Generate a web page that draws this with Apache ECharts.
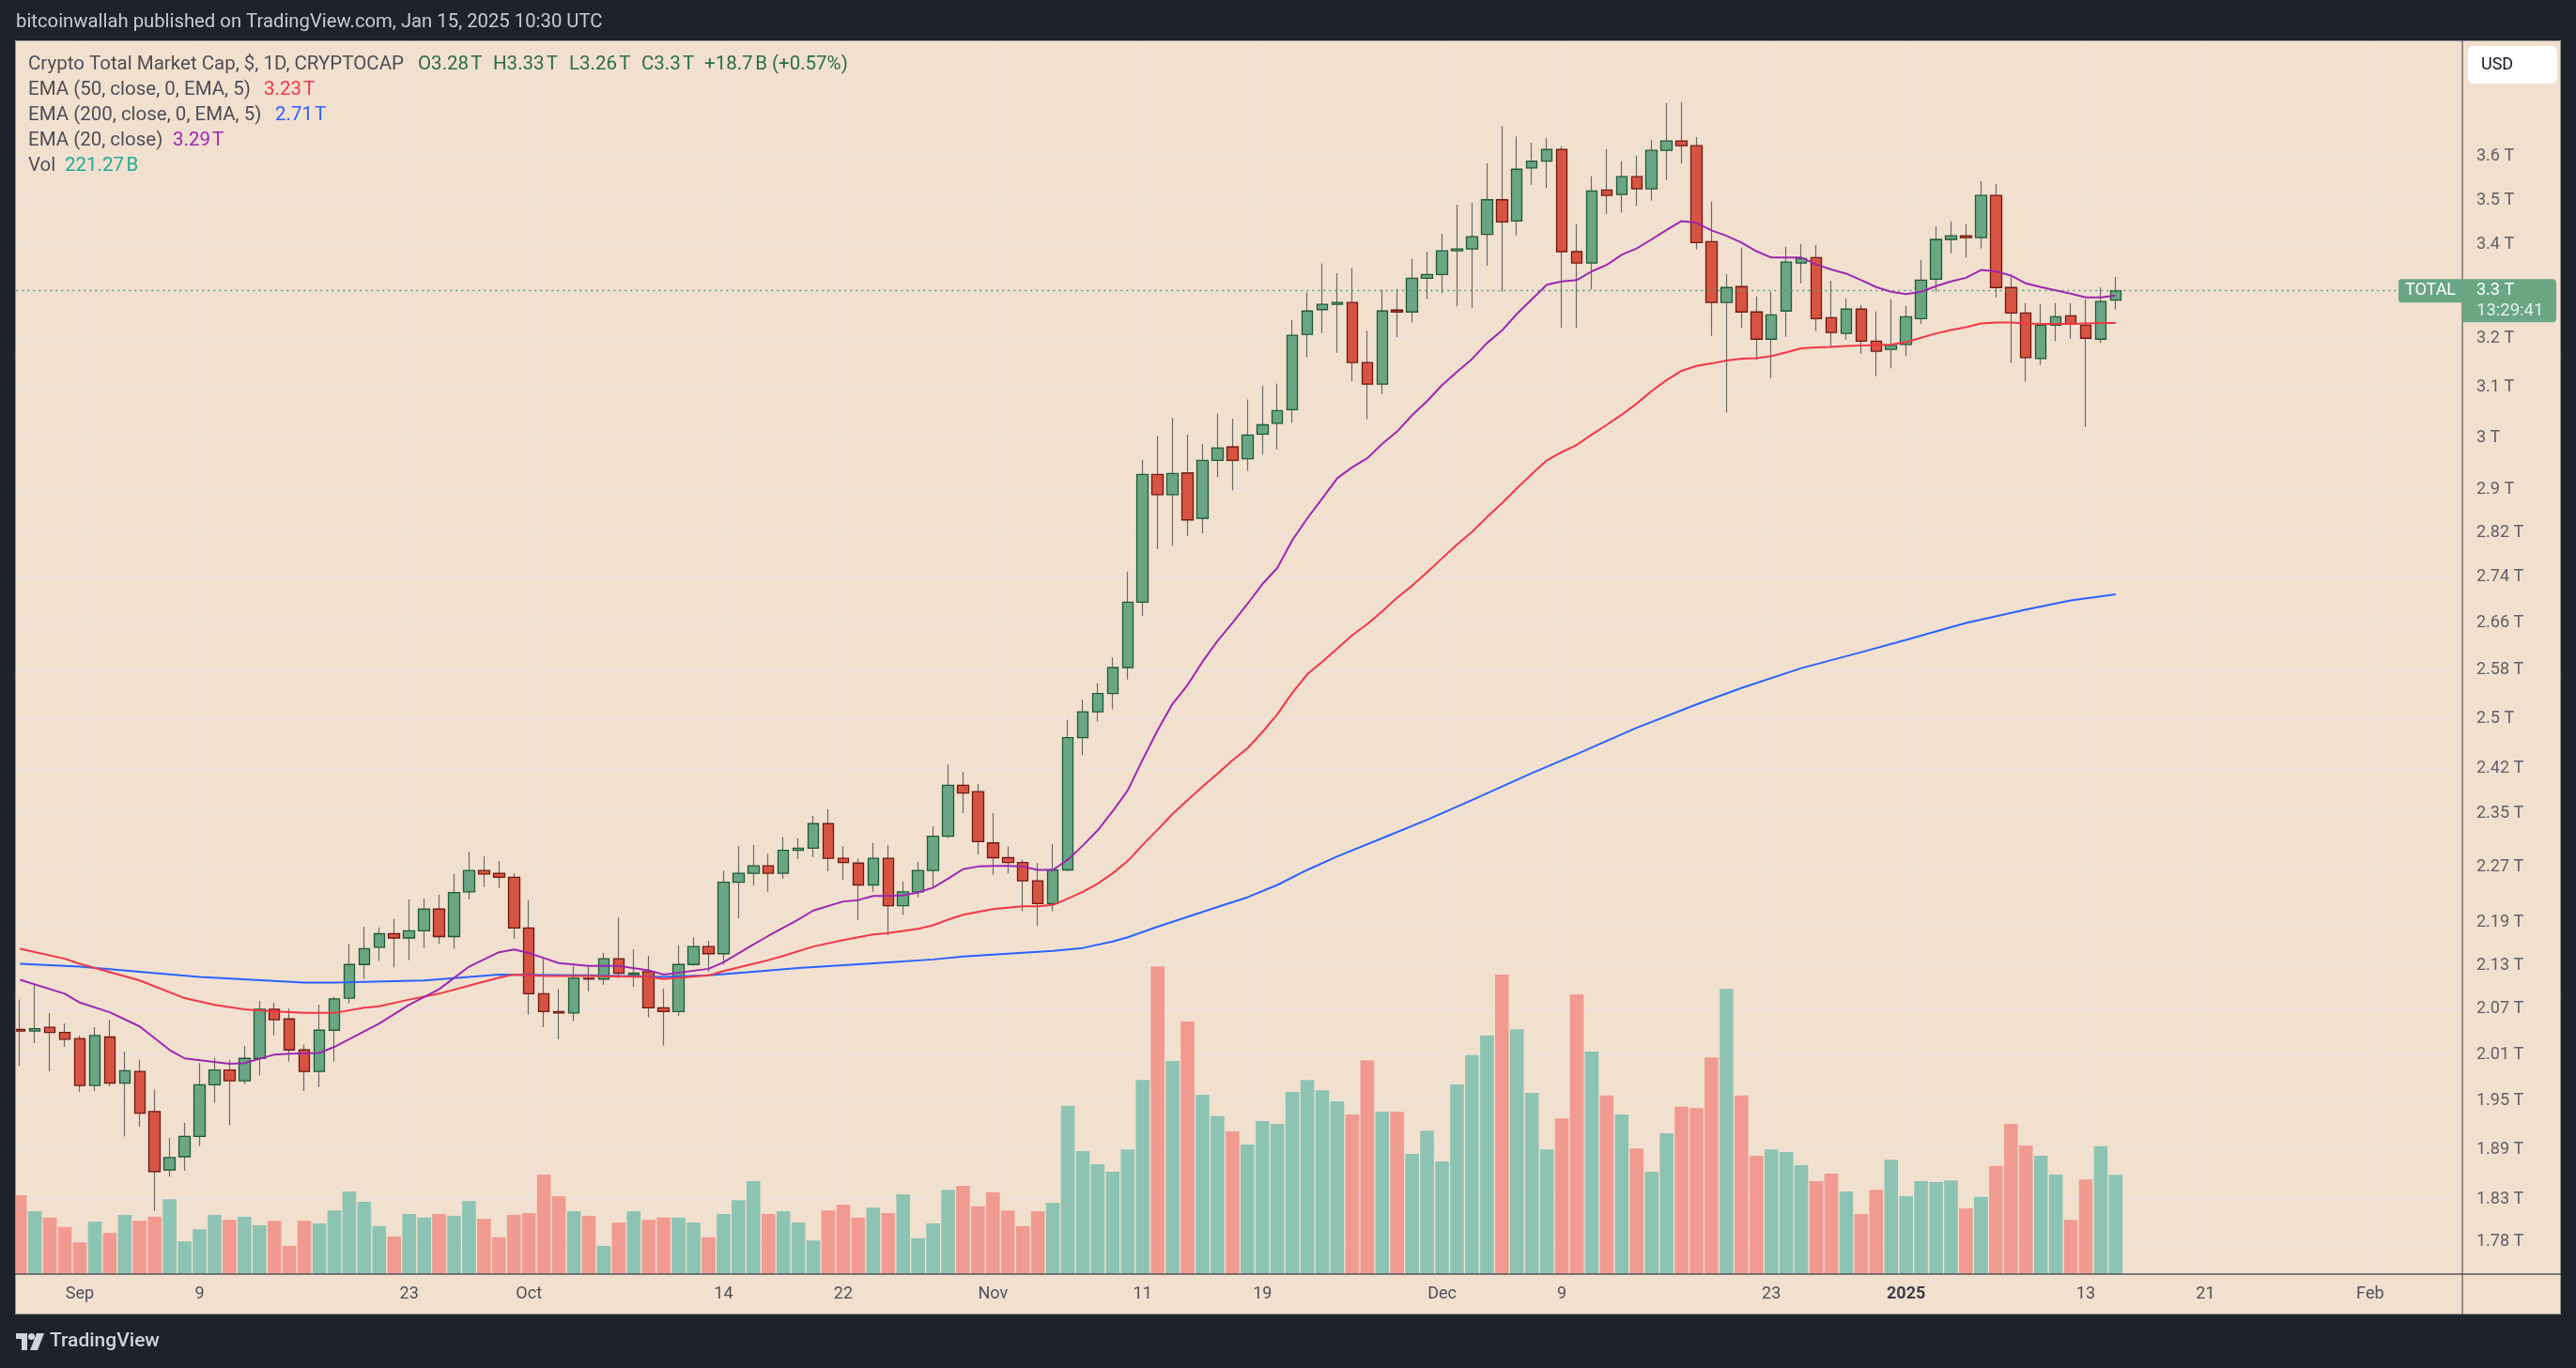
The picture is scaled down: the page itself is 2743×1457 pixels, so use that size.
<!DOCTYPE html>
<html>
<head>
<meta charset="utf-8">
<script src="https://cdn.jsdelivr.net/npm/echarts@6/dist/echarts.min.js"></script>
<style>
html,body{margin:0;padding:0;background:#1f222c;}
#chart{width:2743px;height:1457px;}
</style>
</head>
<body>
<div id="chart"></div>
<script>
// ---------------- DATA ----------------
// Time axis: daily categories (includes empty future space to the right)
const startCategory = '2024-08-27';
const categoryCount = 165;
const candleStart = '2024-08-28';

// Daily candles, trillions USD: [open, close, low, high]
const ohlc = [
  [2.043,2.041,1.995,2.083],[2.041,2.044,2.025,2.104],[2.046,2.039,1.988,2.065],[2.039,2.030,2.020,2.051],
  [2.031,1.970,1.962,2.035],[1.970,2.035,1.963,2.046],[2.033,1.973,1.969,2.056],[1.973,1.989,1.906,2.014],
  [1.988,1.935,1.918,2.003],[1.937,1.863,1.816,1.965],[1.865,1.880,1.857,1.904],[1.881,1.906,1.864,1.923],
  [1.906,1.971,1.894,1.999],[1.971,1.990,1.948,2.006],[1.990,1.976,1.920,2.003],[1.976,2.005,1.972,2.021],
  [2.005,2.070,1.983,2.081],[2.070,2.056,2.035,2.079],[2.057,2.016,2.001,2.071],[2.016,1.988,1.963,2.023],
  [1.988,2.042,1.968,2.076],[2.042,2.084,2.001,2.087],[2.085,2.131,2.078,2.160],[2.131,2.153,2.111,2.184],
  [2.155,2.174,2.136,2.183],[2.174,2.168,2.127,2.195],[2.168,2.178,2.137,2.223],[2.178,2.209,2.154,2.224],
  [2.209,2.170,2.160,2.230],[2.170,2.233,2.153,2.260],[2.234,2.265,2.223,2.293],[2.265,2.260,2.241,2.286],
  [2.261,2.255,2.239,2.279],[2.255,2.182,2.167,2.261],[2.182,2.091,2.063,2.222],[2.091,2.067,2.046,2.141],
  [2.067,2.065,2.030,2.097],[2.065,2.112,2.054,2.129],[2.112,2.111,2.094,2.128],[2.111,2.139,2.103,2.147],
  [2.139,2.119,2.112,2.197],[2.117,2.119,2.100,2.152],[2.121,2.072,2.059,2.143],[2.072,2.067,2.022,2.098],
  [2.067,2.131,2.061,2.158],[2.131,2.156,2.129,2.169],[2.156,2.146,2.121,2.164],[2.146,2.248,2.131,2.265],
  [2.248,2.261,2.196,2.301],[2.261,2.272,2.243,2.303],[2.272,2.261,2.234,2.290],[2.261,2.295,2.253,2.315],
  [2.295,2.298,2.282,2.313],[2.298,2.335,2.285,2.347],[2.335,2.283,2.264,2.357],[2.283,2.277,2.251,2.301],
  [2.276,2.244,2.193,2.283],[2.244,2.283,2.234,2.306],[2.283,2.214,2.172,2.303],[2.214,2.234,2.201,2.249],
  [2.234,2.265,2.226,2.278],[2.265,2.316,2.241,2.331],[2.316,2.394,2.313,2.426],[2.394,2.382,2.351,2.415],
  [2.384,2.308,2.289,2.396],[2.306,2.284,2.259,2.351],[2.284,2.277,2.261,2.301],[2.277,2.250,2.206,2.281],
  [2.250,2.217,2.185,2.276],[2.217,2.266,2.206,2.304],[2.266,2.469,2.264,2.498],[2.469,2.511,2.441,2.531],
  [2.511,2.541,2.495,2.558],[2.541,2.584,2.515,2.601],[2.584,2.696,2.564,2.750],[2.696,2.929,2.672,2.957],
  [2.929,2.891,2.791,3.004],[2.891,2.931,2.797,3.039],[2.932,2.844,2.814,3.006],[2.847,2.956,2.819,2.988],
  [2.956,2.980,2.924,3.047],[2.982,2.956,2.899,3.037],[2.959,3.005,2.936,3.075],[3.007,3.025,2.967,3.103],
  [3.028,3.053,2.977,3.107],[3.055,3.206,3.029,3.238],[3.208,3.257,3.161,3.297],[3.260,3.271,3.211,3.359],
  [3.271,3.275,3.170,3.338],[3.275,3.150,3.112,3.349],[3.150,3.106,3.036,3.216],[3.106,3.257,3.086,3.302],
  [3.259,3.255,3.202,3.304],[3.255,3.327,3.233,3.369],[3.327,3.335,3.282,3.385],[3.335,3.387,3.295,3.424],
  [3.387,3.391,3.267,3.490],[3.391,3.418,3.264,3.494],[3.423,3.501,3.354,3.585],[3.501,3.451,3.298,3.672],
  [3.453,3.571,3.421,3.648],[3.574,3.590,3.535,3.633],[3.590,3.617,3.527,3.644],[3.617,3.385,3.222,3.625],
  [3.385,3.360,3.222,3.446],[3.360,3.521,3.303,3.555],[3.523,3.511,3.468,3.618],[3.513,3.554,3.472,3.590],
  [3.554,3.526,3.487,3.603],[3.526,3.615,3.499,3.640],[3.615,3.637,3.546,3.728],[3.637,3.626,3.584,3.730],
  [3.626,3.405,3.390,3.647],[3.407,3.275,3.205,3.497],[3.275,3.307,3.049,3.336],[3.309,3.255,3.221,3.394],
  [3.255,3.198,3.155,3.288],[3.198,3.249,3.118,3.298],[3.257,3.362,3.203,3.396],[3.360,3.370,3.316,3.402],
  [3.372,3.241,3.215,3.400],[3.243,3.212,3.182,3.322],[3.210,3.261,3.197,3.284],[3.261,3.194,3.168,3.270],
  [3.194,3.173,3.122,3.256],[3.177,3.185,3.138,3.282],[3.187,3.245,3.163,3.268],[3.241,3.323,3.230,3.367],
  [3.325,3.412,3.298,3.441],[3.412,3.420,3.381,3.452],[3.420,3.416,3.372,3.446],[3.416,3.511,3.392,3.544],
  [3.511,3.307,3.286,3.537],[3.307,3.253,3.149,3.330],[3.253,3.160,3.111,3.274],[3.158,3.227,3.145,3.272],
  [3.227,3.245,3.194,3.274],[3.247,3.229,3.199,3.274],[3.227,3.200,3.021,3.282],[3.198,3.277,3.190,3.307],
  [3.28,3.30,3.26,3.33]
];

// Daily volume, billions USD
const volumeB = [
  176,140,126,105,71,117,92,132,119,128,
  167,73,100,132,121,128,109,119,63,119,
  113,142,184,161,107,84,134,126,134,130,
  163,123,82,132,136,222,174,140,130,63,
  115,140,121,126,126,115,82,134,165,207,
  134,140,115,75,142,155,126,148,136,178,
  80,113,188,197,151,182,142,107,140,159,
  375,274,245,228,278,433,686,475,563,400,
  352,318,289,341,335,406,433,410,385,356,
  477,362,362,268,320,251,423,488,532,668,
  546,404,278,347,624,496,398,356,280,228,
  314,373,370,483,636,398,264,278,272,243,
  207,224,184,134,188,255,174,207,205,209,
  146,172,241,335,287,264,222,121,211,285,
  221.27
];

// EMA (20, close) (null = not read)
const ema20 = [
  2.110,null,null,2.091,2.079,null,2.066,null,2.047,null,
  2.016,2.005,null,null,1.998,1.999,null,2.010,2.011,null,
  2.012,2.020,null,null,2.051,null,2.076,null,2.097,null,
  2.128,null,2.148,2.152,2.147,2.140,2.133,null,2.129,null,
  2.129,null,2.123,2.117,null,null,2.125,2.134,null,2.159,
  2.171,null,2.194,2.207,null,2.220,2.222,2.228,2.228,2.229,
  2.233,2.240,2.253,2.267,2.271,2.272,2.272,2.271,2.266,2.266,
  2.281,2.302,2.325,2.354,2.386,2.434,2.481,2.524,2.555,2.594,
  2.629,2.660,2.693,2.728,2.757,2.807,2.847,2.884,2.922,2.943,
  2.960,2.988,3.012,3.044,3.072,3.104,3.131,3.157,3.190,3.216,
  3.251,3.282,3.313,3.320,3.323,3.342,3.356,3.378,3.392,3.412,
  3.433,3.453,3.449,3.432,3.420,3.405,3.386,3.372,3.372,3.372,
  3.357,3.346,3.337,3.323,3.308,3.298,3.293,3.298,3.310,3.320,
  3.328,3.345,3.342,3.333,3.316,3.308,3.301,3.294,3.286,3.286,
  3.290
];

// EMA (50, close, 0, EMA, 5)
const ema50 = [
  2.153,null,null,2.139,2.132,null,null,null,2.109,null,
  null,2.085,null,2.076,null,2.070,null,2.067,null,2.065,
  null,2.065,null,2.072,2.074,null,2.083,null,2.091,null,
  2.102,null,2.113,2.117,null,2.115,null,null,2.115,null,
  null,null,2.114,2.111,null,null,2.116,2.122,null,2.132,
  2.137,2.143,null,2.156,null,2.165,null,2.173,2.175,null,
  2.181,2.186,2.194,2.201,2.205,2.209,2.211,2.213,2.213,2.215,
  2.224,2.234,2.246,2.261,2.279,2.303,2.326,2.350,2.371,2.392,
  2.412,2.433,2.452,2.478,2.507,2.542,2.573,2.594,2.616,2.639,
  2.658,2.680,2.704,2.725,2.749,2.774,2.799,2.822,2.849,2.875,
  2.903,2.930,2.956,2.972,2.986,3.006,3.025,3.045,3.067,3.092,
  3.114,3.133,3.143,3.148,3.154,3.158,3.159,3.163,3.171,3.179,
  3.181,3.182,3.184,3.185,3.186,3.187,3.192,3.201,3.210,3.217,
  3.223,3.231,3.233,3.233,3.231,3.230,3.230,3.230,3.231,3.232,
  3.232
];

// EMA (200, close, 0, EMA, 5): [date, value]
const ema200Points = [
  ['2024-08-28',2.132],['2024-09-01',2.128],['2024-09-09',2.114],['2024-09-16',2.106],
  ['2024-09-18',2.106],['2024-09-24',2.109],['2024-09-29',2.117],['2024-10-05',2.116],
  ['2024-10-10',2.114],['2024-10-13',2.116],['2024-10-16',2.121],['2024-10-19',2.126],
  ['2024-10-22',2.130],['2024-10-25',2.134],['2024-10-28',2.138],['2024-10-30',2.142],
  ['2024-11-02',2.146],['2024-11-05',2.150],['2024-11-07',2.154],['2024-11-09',2.163],
  ['2024-11-10',2.169],['2024-11-12',2.184],['2024-11-14',2.198],['2024-11-16',2.212],
  ['2024-11-18',2.226],['2024-11-20',2.244],['2024-11-22',2.266],['2024-11-24',2.286],
  ['2024-11-27',2.313],['2024-11-30',2.341],['2024-12-03',2.371],['2024-12-07',2.413],
  ['2024-12-10',2.443],['2024-12-14',2.485],['2024-12-18',2.523],['2024-12-21',2.550],
  ['2024-12-25',2.583],['2024-12-29',2.610],['2025-01-01',2.631],['2025-01-05',2.660],
  ['2025-01-09',2.683],['2025-01-12',2.699],['2025-01-15',2.710]
];

// Price axis tick labels (trillions)
const priceTicks = [1.78,1.83,1.89,1.95,2.01,2.07,2.13,2.19,2.27,2.35,2.42,2.5,2.58,2.66,2.74,2.82,2.9,3,3.1,3.2,3.3,3.4,3.5,3.6];

// Time axis labels
const timeLabels = {
  '2024-09-01':'Sep','2024-09-09':'9','2024-09-23':'23','2024-10-01':'Oct','2024-10-14':'14',
  '2024-10-22':'22','2024-11-01':'Nov','2024-11-11':'11','2024-11-19':'19','2024-12-01':'Dec',
  '2024-12-09':'9','2024-12-23':'23','2025-01-01':'2025','2025-01-13':'13','2025-01-21':'21','2025-02-01':'Feb'
};

const headerText = 'bitcoinwallah published on TradingView.com, Jan 15, 2025 10:30 UTC';
const symbolTitle = 'Crypto Total Market Cap, $, 1D, CRYPTOCAP';
const changeText = '+18.7\u202fB (+0.57%)';
const countdownText = '13:29:41';

// ---------------- BUILD ----------------
const categories = [];
{
  const t0 = Date.parse(startCategory + 'T00:00:00Z');
  for (let i = 0; i < categoryCount; i++) {
    categories.push(new Date(t0 + i * 86400000).toISOString().slice(0, 10));
  }
}
const off = categories.indexOf(candleStart);
function pad(arr) {
  return categories.map((c, i) => {
    const k = i - off;
    return (k >= 0 && k < arr.length && arr[k] != null) ? arr[k] : '-';
  });
}

const UP = '#6aa684', DOWN = '#d85442', UP_B = '#1f5b38', DOWN_B = '#6e1a12', WICK = '#6b6b6b';
const VOL_UP = '#8dc3b3', VOL_DOWN = '#f19a8f';
const BG = '#f2e0cf', DARK = '#1f222c', GRIDC = '#ebe3db';
const FONT = "Roboto, 'Noto Sans', sans-serif";

const wickData = pad(ohlc);
const bodyData = pad(ohlc.map(([o, c]) => [o, c, Math.min(o, c), Math.max(o, c)]));
const volData = pad(volumeB.map((v, i) => ({
  value: v,
  itemStyle: { color: ohlc[i][1] >= ohlc[i][0] ? VOL_UP : VOL_DOWN }
})));
const last = ohlc[ohlc.length - 1];

function fmt(v) { return String(+(+v).toFixed(2)); }
const NB = '\u202f';

// layout
const step = 15.94;
const gridLeft = 85 - 5 * step;          // category 0 position
const gridWidth = (categoryCount - 1) * step;
const paneTop = 43, paneBottom = 1357, axisX = 2622, outerRight = 2727, outerBottom = 1400;
const logTop = 3.8826, logBottom = 1.7430;

const isLabel = (idx, val) => timeLabels[val] !== undefined;

const chart = echarts.init(document.getElementById('chart'), null, { renderer: 'canvas', width: 2743, height: 1457 });

chart.setOption({
  animation: false,
  backgroundColor: BG,
  textStyle: { fontFamily: FONT },
  grid: [
    { left: gridLeft, top: paneTop, width: gridWidth, height: paneBottom - paneTop },
    { left: gridLeft, top: 1000, width: gridWidth, height: paneBottom - 1000 }
  ],
  xAxis: [
    {
      type: 'category', gridIndex: 0, data: categories, boundaryGap: false,
      axisLine: { show: false }, axisTick: { show: false },
      axisLabel: {
        interval: isLabel, margin: 12, color: '#4f5059', fontSize: 18, fontFamily: FONT,
        formatter: (val) => timeLabels[val] === '2025' ? '{b|2025}' : (timeLabels[val] || ''),
        rich: { b: { fontWeight: 'bold', fontSize: 18, color: '#3c3d44', fontFamily: FONT } }
      },
      splitLine: { show: true, interval: isLabel, lineStyle: { color: GRIDC, width: 1.5 } }
    },
    { type: 'category', gridIndex: 1, data: categories, boundaryGap: false, show: false }
  ],
  yAxis: [
    {
      type: 'log', gridIndex: 0, position: 'right', min: logBottom, max: logTop,
      axisLine: { show: false },
      axisTick: { show: false, customValues: priceTicks },
      axisLabel: {
        customValues: priceTicks, align: 'left', margin: 17.5, color: '#5f6068',
        fontSize: 18, fontFamily: FONT, formatter: (v) => fmt(v) + ' T'
      },
      splitLine: { show: true, lineStyle: { color: GRIDC, width: 1.5 } }
    },
    { type: 'value', gridIndex: 1, min: 0, max: 747.3, show: false, splitLine: { show: false } }
  ],
  series: [
    {
      name: 'Vol', type: 'bar', xAxisIndex: 1, yAxisIndex: 1, data: volData,
      barWidth: 14.6, z: 1, silent: true
    },
    {
      name: 'wicks', type: 'candlestick', xAxisIndex: 0, yAxisIndex: 0, data: wickData,
      barWidth: 1, z: 3,
      itemStyle: { color: WICK, color0: WICK, borderColor: WICK, borderColor0: WICK, borderWidth: 1.2 }
    },
    {
      name: 'TOTAL', type: 'candlestick', xAxisIndex: 0, yAxisIndex: 0, data: bodyData,
      barWidth: 12, z: 4,
      itemStyle: { color: UP, color0: DOWN, borderColor: UP_B, borderColor0: DOWN_B, borderWidth: 1.3 },
      markLine: {
        silent: true, symbol: ['none', 'none'],
        label: { show: false },
        lineStyle: { type: [2, 4], color: '#5a9a72', width: 1.3 },
        data: [{ yAxis: last[1] }]
      }
    },
    {
      name: 'EMA200', type: 'line', xAxisIndex: 0, yAxisIndex: 0, data: ema200Points,
      showSymbol: false, z: 5, lineStyle: { color: '#2962ff', width: 2 }
    },
    {
      name: 'EMA50', type: 'line', xAxisIndex: 0, yAxisIndex: 0, data: pad(ema50), connectNulls: true,
      showSymbol: false, z: 5, lineStyle: { color: '#f23645', width: 2 }
    },
    {
      name: 'EMA20', type: 'line', xAxisIndex: 0, yAxisIndex: 0, data: pad(ema20), connectNulls: true,
      showSymbol: false, z: 5, lineStyle: { color: '#9c27b0', width: 2 }
    }
  ]
});

// ---------------- OVERLAYS ----------------
const yLast = chart.convertToPixel({ yAxisIndex: 0 }, last[1]);
const lastOf = (a) => { for (let i = a.length - 1; i >= 0; i--) if (a[i] != null) return a[i]; };
const ema200Last = ema200Points[ema200Points.length - 1][1];

function txt(x, y, text, fill, size, extra, weight) {
  return {
    type: 'text', x: x, y: y, z: 120, silent: true,
    style: Object.assign({ text: text, fill: fill, font: (weight ? weight + ' ' : '') + (size || 20.5) + 'px ' + FONT,
      verticalAlign: 'middle', textVerticalAlign: 'middle', align: 'left', textAlign: 'left' }, extra || {})
  };
}
function rect(x, y, w, h, fill, z, r) {
  return { type: 'rect', z: z || 100, silent: true, shape: { x: x, y: y, width: w, height: h, r: r || 0 }, style: { fill: fill } };
}
function line(x1, y1, x2, y2, stroke, w, z) {
  return { type: 'line', z: z || 110, silent: true, shape: { x1: x1, y1: y1, x2: x2, y2: y2 }, style: { stroke: stroke, lineWidth: w || 1 } };
}

const TITLE = '#4d4e56', GREEN_T = '#2a6d45';
const g = [
  // dark frame around the chart box
  rect(0, 0, 2743, paneTop, DARK),
  rect(0, 0, 16, 1457, DARK),
  rect(outerRight, 0, 2743 - outerRight, 1457, DARK),
  rect(0, outerBottom, 2743, 1457 - outerBottom, DARK),
  // box border and separators
  { type: 'rect', z: 110, silent: true, shape: { x: 16.5, y: 43.5, width: outerRight - 17, height: outerBottom - 44 },
    style: { fill: 'none', stroke: '#9a958f', lineWidth: 1 } },
  line(axisX, paneTop, axisX, outerBottom, '#55555a', 1.2),
  line(16, paneBottom, outerRight, paneBottom, '#55555a', 1.5),
  // header
  txt(17, 24, headerText, '#c9cbd3', 20.3),
  // legend
  txt(30, 69, symbolTitle, TITLE),
  txt(445, 69, 'O' + fmt(last[0]) + NB + 'T', GREEN_T),
  txt(525, 69, 'H' + fmt(last[3]) + NB + 'T', GREEN_T),
  txt(606, 69, 'L' + fmt(last[2]) + NB + 'T', GREEN_T),
  txt(683, 69, 'C' + fmt(last[1]) + NB + 'T', GREEN_T),
  txt(750, 69, changeText, GREEN_T),
  txt(30, 96, 'EMA (50, close, 0, EMA, 5)', TITLE),
  txt(281, 96, (+lastOf(ema50)).toFixed(2) + NB + 'T', '#f23645'),
  txt(30, 123, 'EMA (200, close, 0, EMA, 5)', TITLE),
  txt(293, 123, ema200Last.toFixed(2) + NB + 'T', '#2962ff'),
  txt(30, 150, 'EMA (20, close)', TITLE),
  txt(184, 150, (+lastOf(ema20)).toFixed(2) + NB + 'T', '#9c27b0'),
  txt(30, 177, 'Vol', TITLE),
  txt(69, 177, volumeB[volumeB.length - 1].toFixed(2) + NB + 'B', '#22ab94'),
  // USD button
  rect(2628, 49, 95, 40, '#ffffff', 115, 6),
  txt(2642, 69, 'USD', '#131722', 18),
  // last price labels
  rect(2554, yLast - 12.5, 68, 25, UP, 115, [3, 0, 0, 3]),
  txt(2588, yLast, 'TOTAL', '#ffffff', 18, { align: 'center', textAlign: 'center' }),
  rect(axisX, yLast - 12.5, 100, 46, UP, 115, [0, 4, 4, 0]),
  txt(2637, yLast, fmt(last[1]) + ' T', '#ffffff', 18),
  txt(2637, yLast + 22, countdownText, 'rgba(255,255,255,0.82)', 18.5),
  // TradingView logo
  rect(17, 1420, 12, 6, '#d1d4dc', 115),
  rect(23, 1420, 6, 18, '#d1d4dc', 115),
  { type: 'circle', z: 115, silent: true, shape: { cx: 33.5, cy: 1423.5, r: 3.5 }, style: { fill: '#d1d4dc' } },
  { type: 'polygon', z: 115, silent: true, shape: { points: [[39, 1420], [47, 1420], [40, 1438], [32, 1438]] }, style: { fill: '#d1d4dc' } },
  txt(53, 1429, 'TradingView', '#d1d4dc', 21, null, 500)
];
chart.setOption({ graphic: g });
</script>
</body>
</html>
